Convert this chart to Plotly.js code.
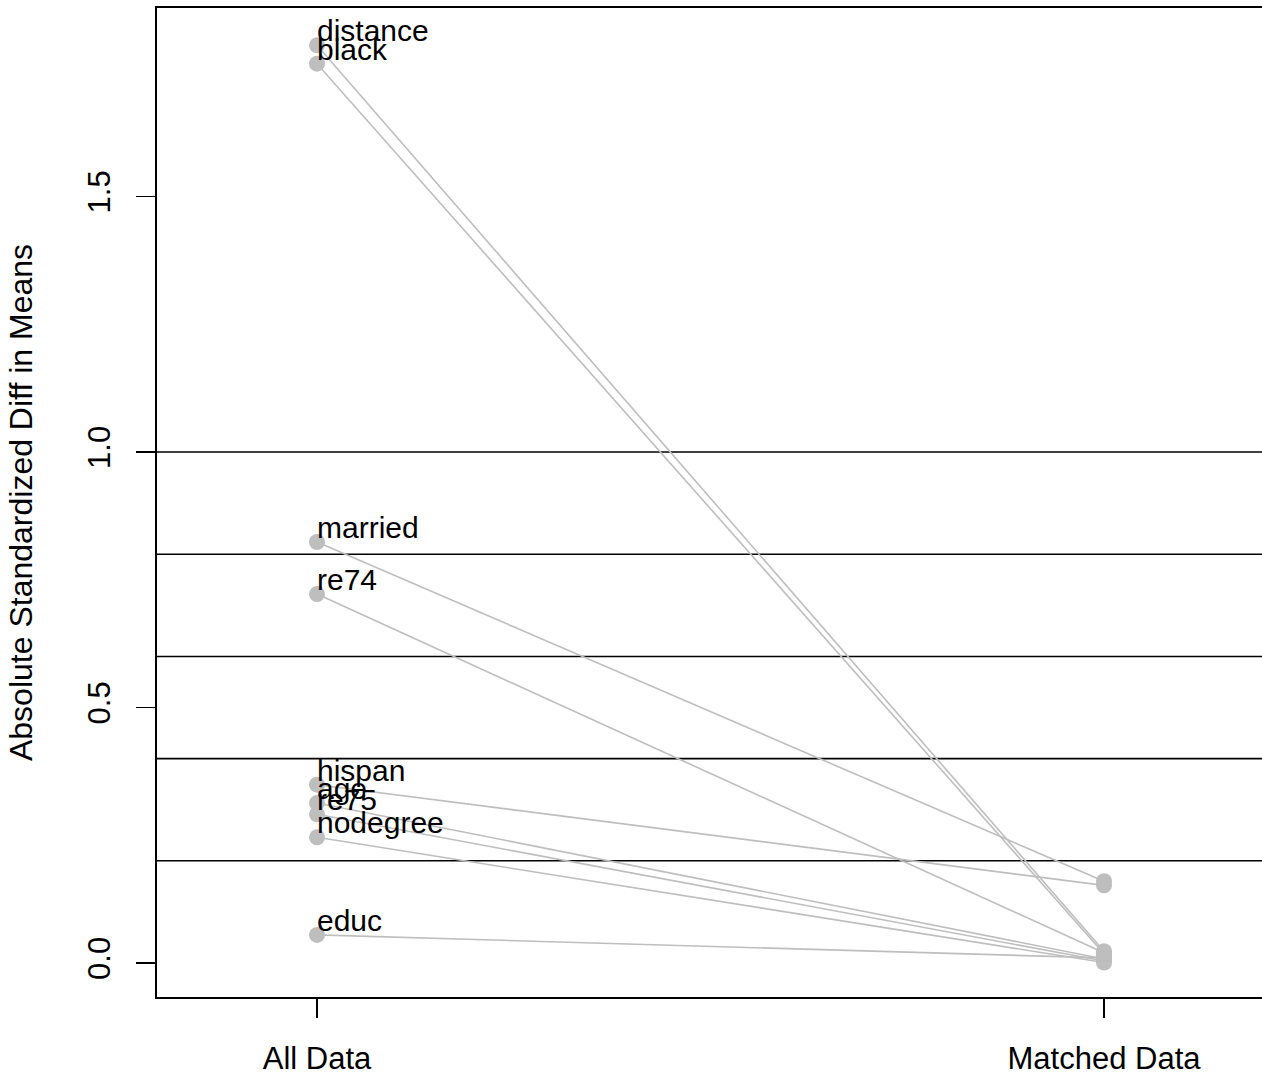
<!DOCTYPE html>
<html>
<head>
<meta charset="utf-8">
<script src="https://cdn.plot.ly/plotly-3.0.1.min.js"></script>
<style>
html,body{margin:0;padding:0;overflow:hidden;background:#fff;}
#chart{width:1266px;height:1076px;}
</style>
</head>
<body>
<div id="chart"></div>
<script>
// Data
const variables = ['distance','black','married','re74','hispan','age','re75','nodegree','educ'];
const allData = [1.796, 1.760, 0.824, 0.722, 0.349, 0.313, 0.291, 0.246, 0.055];
const matchedData = [0.023, 0.018, 0.160, 0.020, 0.152, 0.008, 0.004, 0.001, 0.010];
const groups = [1, 2];
const groupLabels = ['All Data', 'Matched Data'];
const refLines = [0.2, 0.4, 0.6, 0.8, 1.0];
const yTicks = [0, 0.5, 1.0, 1.5];

const grey = '#BEBEBE';
const fontFam = '"Liberation Sans", Arial, Helvetica, sans-serif';

const traces = [];
variables.forEach((v, i) => {
  traces.push({
    x: [groups[0], groups[1]],
    y: [allData[i], matchedData[i]],
    mode: 'lines',
    line: {color: grey, width: 1.6},
    hoverinfo: 'skip',
    showlegend: false
  });
});
traces.push({
  x: variables.map(() => groups[0]),
  y: allData,
  text: variables,
  mode: 'markers',
  marker: {color: grey, size: 16},
  showlegend: false
});
traces.push({
  x: variables.map(() => groups[1]),
  y: matchedData,
  text: variables,
  mode: 'markers',
  marker: {color: grey, size: 16},
  showlegend: false
});

const shapes = refLines.map(v => ({
  type: 'line', xref: 'paper', x0: 0, x1: 1, yref: 'y', y0: v, y1: v,
  line: {color: '#000', width: 1.6}, layer: 'below'
}));

const annotations = variables.map((v, i) => ({
  x: groups[0], y: allData[i], xref: 'x', yref: 'y',
  text: v, showarrow: false, xanchor: 'left', yanchor: 'bottom',
  xshift: -2, yshift: -4,
  font: {family: fontFam, size: 30, color: '#000'}
}));

const layout = {
  width: 1266, height: 1076,
  margin: {l: 157, r: 2, t: 8, b: 79},
  paper_bgcolor: '#fff', plot_bgcolor: '#fff',
  font: {family: fontFam, size: 31, color: '#000'},
  xaxis: {
    range: [0.7967, 2.2033],
    tickvals: groups, ticktext: groupLabels,
    ticks: 'outside', ticklen: 19, tickwidth: 1.6, tickcolor: '#000',
    ticklabelstandoff: 14,
    showgrid: false, zeroline: false,
    showline: true, linecolor: '#000', linewidth: 1.6, mirror: true,
    tickfont: {size: 31}
  },
  yaxis: {
    range: [-0.0665, 1.869],
    tickvals: yTicks, tickformat: '.1f',
    ticks: 'outside', ticklen: 19, tickwidth: 1.6, tickcolor: '#000',
    tickangle: -90, ticklabelstandoff: 14,
    showgrid: false, zeroline: false,
    showline: true, linecolor: '#000', linewidth: 1.6, mirror: true,
    tickfont: {size: 31},
    title: {text: 'Absolute Standardized Diff in Means', font: {size: 32}, standoff: 40}
  },
  shapes: shapes,
  annotations: annotations,
  showlegend: false
};

Plotly.newPlot('chart', traces, layout, {displayModeBar: false, staticPlot: true});
</script>
</body>
</html>
